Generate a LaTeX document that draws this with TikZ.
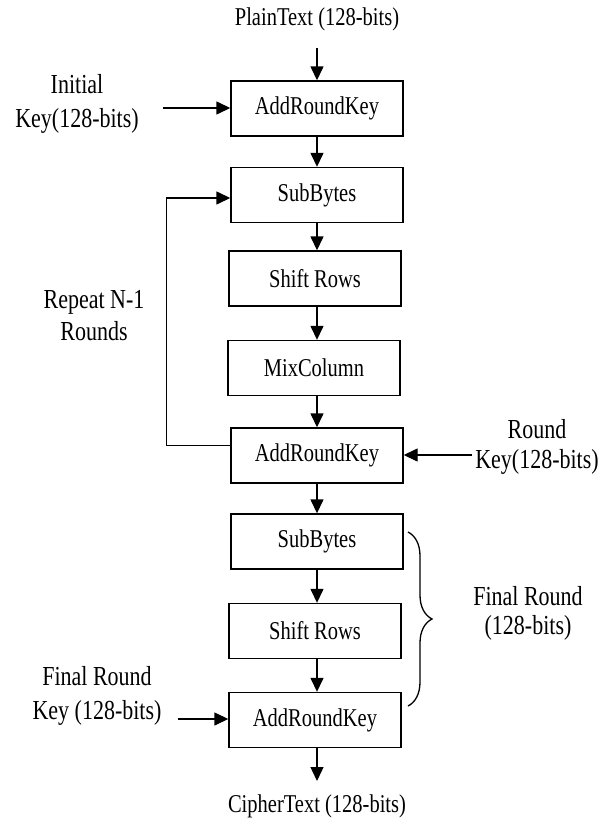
\documentclass[tikz,border=0pt]{standalone}
\usepackage{fontspec}
\usepackage{graphicx}
\setmainfont{Liberation Serif}
\usetikzlibrary{arrows.meta,decorations.pathreplacing}
\newcommand{\vst}[1]{\scalebox{1}[1.25]{#1}}
\newcommand{\vml}[2]{\scalebox{1}[1.25]{\fontsize{22}{#1}\selectfont\begin{tabular}{@{}c@{}}#2\end{tabular}}}
\begin{document}
\begin{tikzpicture}[x=1pt,y=-1pt,
  blk/.style={draw, line width=1.4pt, minimum width=172pt, minimum height=55pt, inner sep=0pt, font=\fontsize{20.5}{24}\selectfont},
  lbl/.style={align=center, inner sep=0pt, font=\fontsize{20.5}{24}\selectfont},
  arr/.style={-{Triangle[length=14pt,width=13pt]}, line width=1.4pt}]
\useasboundingbox (0,0) rectangle (610,822);
\fill[white] (0,0) rectangle (610,822);

\node[lbl] (pt) at (317,19) {\vst{PlainText (128-bits)}};
\coordinate (in0) at (317,48);

\node[blk] (ark1) at (317,108.5) {\vst{AddRoundKey}};
\node[blk] (sb1)  at (317,195)   {\vst{SubBytes}};
\node[blk] (sr1)  at (315,278.5) {\vst{Shift Rows}};
\node[blk] (mc)   at (314,368)   {\vst{MixColumn}};
\node[blk] (ark2) at (317,455.5) {\vst{AddRoundKey}};
\node[blk] (sb2)  at (317,541.5) {\vst{SubBytes}};
\node[blk] (sr2)  at (315,631)   {\vst{Shift Rows}};
\node[blk] (ark3) at (315,720)   {\vst{AddRoundKey}};

\node[lbl] (ct) at (317,806) {\vst{CipherText (128-bits)}};
\coordinate (out0) at (317,781);

\node[lbl] (ik) at (77,104) {\vml{27}{Initial\\Key(128-bits)}};
\coordinate (ik0) at (163,108);

\node[lbl] (rep) at (94,318) {\vml{25.5}{Repeat N-1\\Rounds}};

\node[lbl] (rk) at (537,447) {\vml{24}{Round\\Key(128-bits)}};
\coordinate (rk0) at (472,455);

\node[lbl] (fr) at (528,614) {\vml{23.5}{Final Round\\(128-bits)}};

\node[lbl] (frk) at (97,696) {\vml{27}{Final Round\\Key (128-bits)}};
\coordinate (frk0) at (178,719);

\draw[arr] (in0) -- (ark1);
\draw[arr] (ik0) -- (ark1.west |- ik0);
\draw[arr] (ark1.south -| in0) -- (sb1.north -| in0);
\draw[arr] (sb1.south -| in0) -- (sr1.north -| in0);
\draw[arr] (sr1.south -| in0) -- (mc.north -| in0);
\draw[arr] (mc.south -| in0) -- (ark2.north -| in0);
\draw[arr] (ark2.south -| in0) -- (sb2.north -| in0);
\draw[arr] (sb2.south -| in0) -- (sr2.north -| in0);
\draw[arr] (sr2.south -| in0) -- (ark3.north -| in0);
\draw[arr] (ark3.south -| in0) -- (out0);
\draw[arr] (rk0) -- (ark2.east |- rk0);
\draw[arr] (frk0) -- (ark3.west |- frk0);
\draw[arr] ([yshift=10pt]ark2.west) -- ++(-64,0) |- ([yshift=-3pt]sb1.west);

\draw[line width=1.3pt, decorate, decoration={brace, amplitude=24pt}]
  (408,532) -- (408,706);
\end{tikzpicture}
\end{document}
